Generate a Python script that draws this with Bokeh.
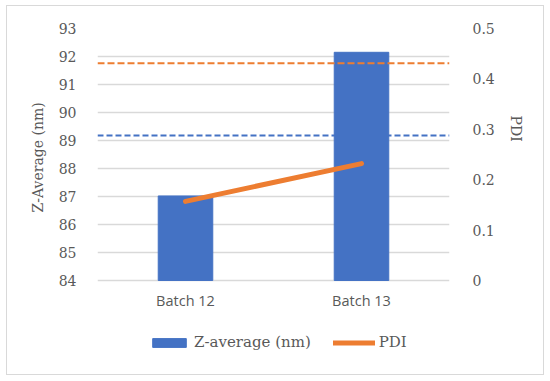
from bokeh.plotting import figure
from bokeh.models import (Range1d, LinearAxis, FactorRange, Span, Legend, LegendItem,
                          FixedTicker, ColumnDataSource, Title)
from bokeh.embed import file_html
from bokeh.resources import INLINE

# ---- data ----
batches = ["Batch 12", "Batch 13"]
z_average = [87.02, 92.15]
pdi = [0.157, 0.232]
z_reference = 89.18      # blue dashed line (left axis)
pdi_reference = 0.431    # orange dashed line (right axis)
left_ticks = [84, 85, 86, 87, 88, 89, 90, 91, 92, 93]
right_ticks = [0, 0.1, 0.2, 0.3, 0.4, 0.5]
right_tick_labels = ["0", "0.1", "0.2", "0.3", "0.4", "0.5"]
left_title = "Z-Average (nm)"
right_title = "PDI"

BLUE = "#4472C4"
ORANGE = "#ED7D31"
TEXT = "#595959"
SERIF = "DejaVu Serif"

# layout: value axis spans 252 px; frame extends 86 px further down to host labels/legend
AXIS_PX = 252
EXTRA_PX = 86
left_span = left_ticks[-1] - left_ticks[0]
right_span = right_ticks[-1] - right_ticks[0]
left_lo = left_ticks[0] - EXTRA_PX * left_span / AXIS_PX
right_lo = right_ticks[0] - EXTRA_PX * right_span / AXIS_PX

src = ColumnDataSource(dict(batch=batches, z=z_average, pdi=pdi))

p = figure(frame_width=352, frame_height=AXIS_PX + EXTRA_PX,
           x_range=FactorRange(*batches, range_padding=0),
           y_range=Range1d(left_lo, left_ticks[-1]),
           output_backend="svg", toolbar_location=None,
           min_border_left=90, min_border_right=94, min_border_top=22, min_border_bottom=8)
p.outline_line_color = None
p.background_fill_color = "white"
p.border_fill_color = "white"
p.margin = (5, 0, 0, 6)
p.styles = {"border": "1px solid #d9d9d9"}

p.extra_y_ranges = {"pdi": Range1d(right_lo, right_ticks[-1])}

# grid
p.xgrid.grid_line_color = None
p.ygrid.grid_line_color = "#d9d9d9"
p.ygrid.grid_line_width = 1.3
p.yaxis.ticker = FixedTicker(ticks=left_ticks)

# blue dashed reference behind the bars
blue_ref = Span(location=z_reference, dimension="width", line_color=BLUE,
                line_dash="6 3", line_width=2, level="underlay")
p.add_layout(blue_ref)

bars = p.vbar(x="batch", top="z", bottom=left_ticks[0], width=0.31, source=src,
              fill_color=BLUE, line_color=BLUE)

line = p.line(x="batch", y="pdi", source=src, y_range_name="pdi",
              line_color=ORANGE, line_width=5, line_cap="round")

orange_ref = Span(location=pdi_reference, dimension="width", y_range_name="pdi",
                  line_color=ORANGE, line_dash="7 3", line_width=2, level="overlay")
p.add_layout(orange_ref)

# left axis
ya = p.yaxis[0]
ya.axis_line_color = None
ya.major_tick_line_color = None
ya.minor_tick_line_color = None
ya.major_label_text_font = SERIF
ya.major_label_text_font_size = "14px"
ya.major_label_text_color = TEXT
ya.major_label_standoff = 15

# right axis
ra = LinearAxis(y_range_name="pdi", ticker=FixedTicker(ticks=right_ticks))
ra.major_label_overrides = {t: l for t, l in zip(right_ticks, right_tick_labels)}
ra.axis_line_color = None
ra.major_tick_line_color = None
ra.minor_tick_line_color = None
ra.major_label_text_font = SERIF
ra.major_label_text_font_size = "14px"
ra.major_label_text_color = TEXT
ra.major_label_standoff = 17
p.add_layout(ra, "right")

# axis titles, positioned along the value-axis part of the frame
lt = Title(text=left_title, align="left", offset=154,
           text_font=SERIF, text_font_size="14px", text_font_style="normal",
           text_color=TEXT, standoff=19)
p.add_layout(lt, "left")
rt = Title(text=right_title, align="left", offset=87,
           text_font=SERIF, text_font_size="14px", text_font_style="normal",
           text_color=TEXT, standoff=20)
p.add_layout(rt, "right")

# x axis (labels pulled up into the extended frame)
xa = p.xaxis[0]
xa.axis_line_color = None
xa.major_tick_line_color = None
xa.minor_tick_line_color = None
xa.major_label_text_font = "Open Sans"
xa.major_label_text_font_size = "14.5px"
xa.major_label_text_color = TEXT
xa.major_label_standoff = -82

legend = Legend(items=[LegendItem(label="Z-average (nm)", renderers=[bars]),
                       LegendItem(label="PDI", renderers=[line])],
                orientation="horizontal", location=(51, 15),
                label_text_font=SERIF, label_text_font_size="15px",
                label_text_color=TEXT, glyph_width=42, glyph_height=11,
                border_line_color=None, background_fill_alpha=0,
                spacing=22, label_standoff=4, padding=0, margin=0)
p.add_layout(legend, "center")

open("out.html", "w").write(file_html(p, INLINE))
